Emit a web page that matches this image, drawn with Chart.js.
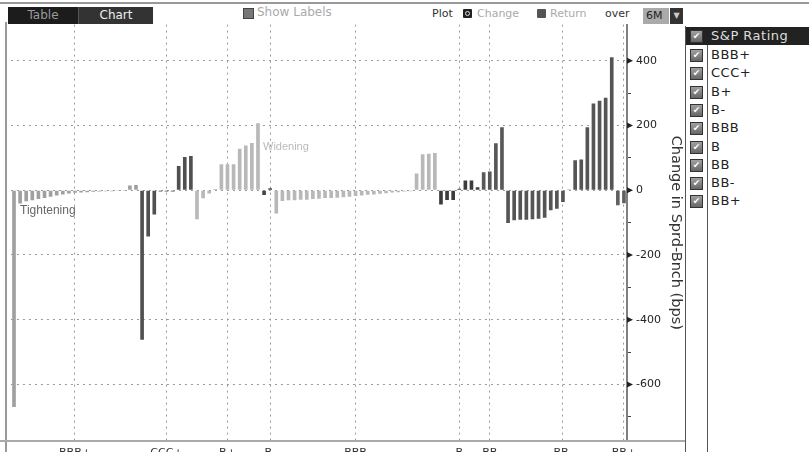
<!DOCTYPE html>
<html>
<head>
<meta charset="utf-8">
<script src="https://cdn.jsdelivr.net/npm/chart.js@4.4.0/dist/chart.umd.min.js"></script>
<style>
body{margin:0;width:809px;height:452px;overflow:hidden;background:#fff;position:relative;font-family:"DejaVu Sans",sans-serif}
.abs{position:absolute}
.btn{position:absolute;top:7px;height:17px;line-height:17px;text-align:center;font-size:12px}
.tb{position:absolute;top:6px;font-size:11px;line-height:16px;white-space:nowrap}
.chk{position:absolute;left:690px;width:11px;height:11px;border:1px solid #333;background:linear-gradient(#a0a0a0,#666);color:#fff;font-size:9px;line-height:11px;text-align:center}
.leg{position:absolute;left:711px;font-size:13px;color:#222;line-height:16px;letter-spacing:0.5px}
#wrap{position:absolute;left:8px;top:13px;width:677px;height:453px}
</style>
</head>
<body>
<div class="abs" style="left:0;top:2px;width:809px;height:2px;background:#999"></div>
<div class="abs" style="left:5px;top:22px;width:2px;height:430px;background:#999"></div>
<div class="btn" style="left:8px;width:70px;background:#1c1c1c;color:#9a9a9a">Table</div>
<div class="btn" style="left:78px;width:74px;background:#333;color:#eee;border-left:1px solid #555">Chart</div>
<div class="abs" style="left:243px;top:8px;width:9px;height:9px;background:#777;border:1px solid #444"></div>
<div class="tb" style="left:257px;top:4px;font-size:12px;color:#aaa">Show Labels</div>
<div class="tb" style="left:432px;color:#333">Plot</div>
<div class="abs" style="left:463px;top:9px;width:9px;height:9px;background:#222;border-radius:1px"><div style="margin:2px;width:3px;height:3px;border:1px solid #ddd;border-radius:3px"></div></div>
<div class="tb" style="left:477px;color:#aaa">Change</div>
<div class="abs" style="left:537px;top:9px;width:9px;height:9px;background:#555;border-radius:1px"></div>
<div class="tb" style="left:550px;color:#aaa">Return</div>
<div class="tb" style="left:605px;color:#333">over</div>
<div class="abs" style="left:643px;top:8px;width:26px;height:16px;background:#aaa;color:#222;font-size:11px;line-height:16px;padding-left:3px;box-sizing:border-box">6M</div>
<div class="abs" style="left:670px;top:8px;width:13px;height:16px;background:#333;color:#ccc;font-size:8px;line-height:16px;text-align:center">&#9660;</div>

<div id="wrap"><canvas id="myChart"></canvas></div>
<div class="abs" style="left:0;top:440px;width:685px;height:2px;background:#aaa"></div>
<div class="abs" style="left:20px;top:203px;font-family:'Liberation Sans',sans-serif;font-size:12px;color:#666">Tightening</div>
<div class="abs" style="left:263px;top:140px;font-family:'Liberation Sans',sans-serif;font-size:11px;color:#bbb">Widening</div>

<div class="abs" style="left:685px;top:26px;width:1px;height:426px;background:#555"></div>
<div class="abs" style="left:686px;top:27px;width:123px;height:18px;background:#222"></div>
<div class="abs" style="left:707px;top:45px;width:1px;height:407px;background:#555"></div>
<div id="legend"></div>

<script>
const ratings = ["BBB+", "CCC+", "B+", "B-", "BBB", "B", "BB", "BB-", "BB+"];
const groupColors = ["#a0a0a0", "#505050", "#b8b8b8", "#444444", "#b8b8b8", "#3c3c3c", "#585858", "#555555", "#606060"];
const labelAt = [10, 4, 5, 1, 13, 3, 1, 9, 1];

const bbbPlus = [-670, -41, -34, -31, -27, -24, -20, -16, -13, -10, -8, -7, -6, -5, -4, -3, -3, -2, -1, 15, 16];
const cccPlus = [-462, -143, -75, -4, -4, -4, 75, 103, 106];
const bPlus = [-90, -25, -10, 4, 80, 80, 80, 128, 138, 146, 207];
const bMinus = [-15, 6];
const bbb = [-72, -33, -31, -31, -29, -29, -27, -26, -24, -24, -23, -22, -20, -18, -16, -14, -13, -11, -9, -7, -6, -4, -3, 52, 111, 113, 115];
const b = [-44, -30, -30, 5, 30, 30, 9];
const bb = [56, 58, 145, 195];
const bbMinus = [-101, -93, -91, -91, -90, -88, -85, -62, -57, -36, 2, 93, 95, 195, 268, 277, 286, 411];
const bbPlus = [-46, -40];

const groups = [bbbPlus, cccPlus, bPlus, bMinus, bbb, b, bb, bbMinus, bbPlus];
let labels = [];
let values = [];
let colors = [];
groups.forEach((g, gi) => {
  g.forEach((v, i) => {
    labels.push(i === labelAt[gi] ? ratings[gi] : "");
    values.push(v);
    colors.push(groupColors[gi]);
  });
});

// legend panel
const leg = document.getElementById("legend");
leg.innerHTML += '<div class="chk" style="top:30px">&#10004;</div><div class="leg" style="top:28px;color:#ddd">S&amp;P Rating</div>';
ratings.forEach((r, i) => {
  const top = 49 + i * 18.3;
  leg.innerHTML += `<div class="chk" style="top:${top}px">&#10004;</div><div class="leg" style="top:${top - 2}px">${r}</div>`;
});

const majors = [400, 200, 0, -200, -400, -600];
const arrowTicks = {
  id: "arrowTicks",
  afterDraw(chart) {
    const y = chart.scales.y;
    const ctx = chart.ctx;
    ctx.save();
    ctx.fillStyle = "#222";
    majors.forEach((v) => {
      const py = y.getPixelForValue(v);
      ctx.beginPath();
      ctx.moveTo(y.left, py - 3);
      ctx.lineTo(y.left + 6, py);
      ctx.lineTo(y.left, py + 3);
      ctx.closePath();
      ctx.fill();
    });
    ctx.restore();
  },
};

new Chart("myChart", {
  type: "bar",
  data: {
    labels: labels,
    datasets: [
      {
        data: values,
        backgroundColor: colors,
        barPercentage: 0.6,
        categoryPercentage: 1,
      },
    ],
  },
  options: {
    responsive: true,
    maintainAspectRatio: false,
    animation: false,
    layout: { padding: 0 },
    plugins: { legend: { display: false }, tooltip: { enabled: false } },
    scales: {
      x: {
        afterFit: (s) => { s.height = 25; },
        grid: {
          offset: false,
          drawTicks: false,
          color: (c) => (labels[c.index] ? "#999" : "rgba(0,0,0,0)"),
        },
        border: { display: false, dash: [2, 4] },
        ticks: {
          autoSkip: false,
          maxRotation: 0,
          padding: 6,
          color: "#333",
          font: { family: "DejaVu Sans", size: 11 },
          callback: (v, i) => labels[i],
        },
      },
      y: {
        position: "right",
        min: -775,
        max: 512,
        afterFit: (s) => { s.width = 58; },
        afterBuildTicks: (s) => { s.ticks = s.ticks.filter((t) => t.value % 100 === 0); },
        grid: {
          color: (c) => (c.tick && c.tick.value % 200 === 0 ? "#999" : "rgba(0,0,0,0)"),
          tickColor: "#444",
          tickLength: 4,
        },
        border: { display: true, color: "#808080", width: 2, dash: [2, 4] },
        ticks: {
          stepSize: 100,
          padding: 5,
          color: "#222",
          font: { family: "DejaVu Sans", size: 11 },
          callback: (v) => (v % 200 === 0 ? v : ""),
        },
        title: {
          display: true,
          text: "Change in Sprd-Bnch (bps)",
          color: "#333",
          padding: 1,
          font: { family: "DejaVu Sans", size: 14.5 },
        },
      },
    },
  },
  plugins: [arrowTicks],
});
</script>
</body>
</html>
